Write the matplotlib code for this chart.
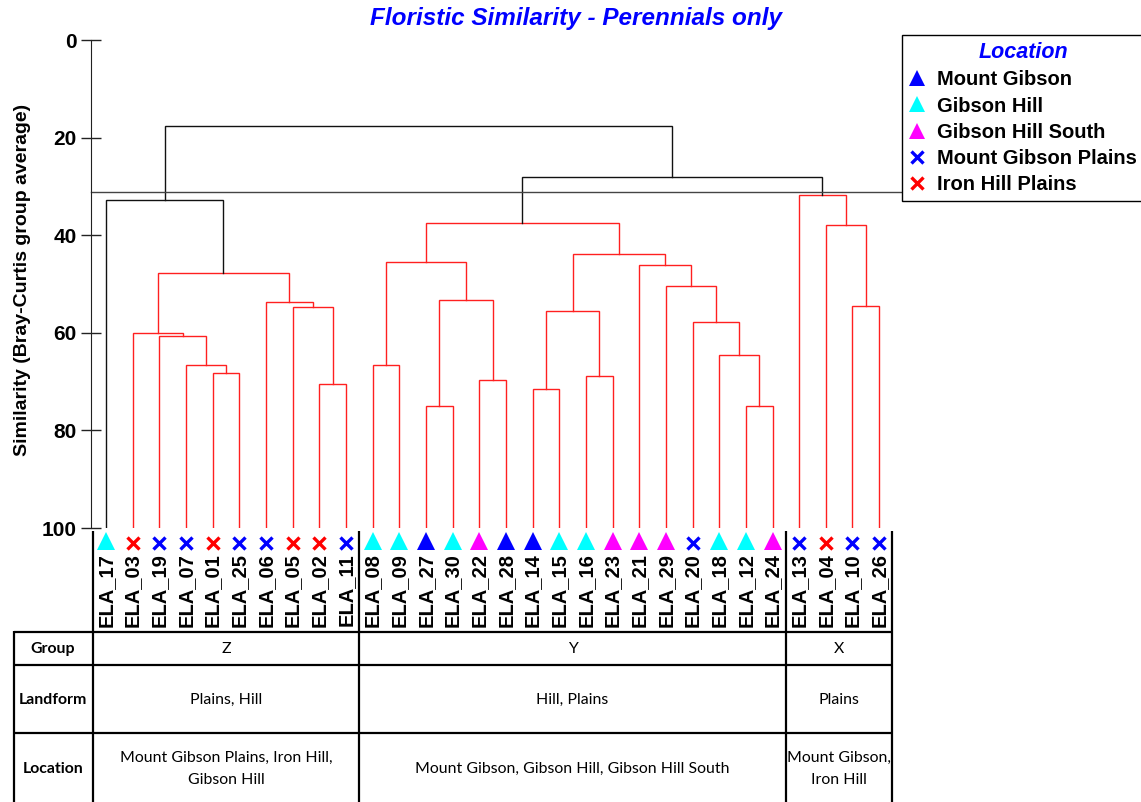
import matplotlib.pyplot as plt
from matplotlib.lines import Line2D

plt.rcParams['font.family'] = ['Liberation Sans', 'DejaVu Sans']

# ---- data ----
leaves = ['ELA_17', 'ELA_03', 'ELA_19', 'ELA_07', 'ELA_01', 'ELA_25', 'ELA_06', 'ELA_05', 'ELA_02', 'ELA_11',
          'ELA_08', 'ELA_09', 'ELA_27', 'ELA_30', 'ELA_22', 'ELA_28', 'ELA_14', 'ELA_15', 'ELA_16', 'ELA_23',
          'ELA_21', 'ELA_29', 'ELA_20', 'ELA_18', 'ELA_12', 'ELA_24', 'ELA_13', 'ELA_04', 'ELA_10', 'ELA_26']

MG, GH, GHS, MGP, IHP = 'Mount Gibson', 'Gibson Hill', 'Gibson Hill South', 'Mount Gibson Plains', 'Iron Hill Plains'
loc_names = [MG, GH, GHS, MGP, IHP]
leaf_loc = [GH, IHP, MGP, MGP, IHP, MGP, MGP, IHP, IHP, MGP,
            GH, GH, MG, GH, GHS, MG, MG, GH, GH, GHS,
            GHS, GHS, MGP, GH, GH, GHS, MGP, IHP, MGP, MGP]

# linkage rows: (child a, child b, similarity); ids >= 30 are earlier merges
merges = [(4, 5, 68.3), (3, 30, 66.7), (2, 31, 60.7), (1, 32, 60.0),
          (8, 9, 70.5), (7, 34, 54.8), (6, 35, 53.7), (33, 36, 47.7), (0, 37, 32.7),
          (10, 11, 66.7), (12, 13, 75.0), (14, 15, 69.6), (40, 41, 53.3), (39, 42, 45.4),
          (16, 17, 71.6), (18, 19, 68.9), (44, 45, 55.5),
          (24, 25, 75.0), (23, 47, 64.5), (22, 48, 57.7), (21, 49, 50.5), (20, 50, 46.2),
          (46, 51, 43.9), (43, 52, 37.4),
          (28, 29, 54.6), (27, 54, 38.0), (26, 55, 31.8), (53, 56, 28.1), (38, 57, 17.6)]
significant = [38, 57, 58]   # nodes drawn in black (SIMPROF)
cut_level = 31.1

groups = ['Z', 'Y', 'X']
group_sizes = [10, 16, 4]
landforms = ['Plains, Hill', 'Hill, Plains', 'Plains']
group_locs = ['Mount Gibson Plains, Iron Hill,\nGibson Hill',
              'Mount Gibson, Gibson Hill, Gibson Hill South',
              'Mount Gibson,\nIron Hill']
row_names = ['Group', 'Landform', 'Location']

# ---- styles ----
styles = {MG: ('^', '#0000FF'), GH: ('^', '#00FFFF'), GHS: ('^', '#FF00FF'),
          MGP: ('x', '#0000FF'), IHP: ('x', '#FF0000')}

W, H = 1141, 802


def fy(py):  # pixel row -> similarity units
    return (py - 40) / 4.88


def fx(px):  # pixel column -> leaf index units
    return (px - 106) / 26.66


fig = plt.figure(figsize=(W / 100, H / 100), dpi=100)
ax = fig.add_axes([91 / W, 1 - 528 / H, 800 / W, 488 / H])
ax.set_xlim(fx(91), fx(891))
ax.set_ylim(100, 0)
for s in ['top', 'right', 'bottom']:
    ax.spines[s].set_visible(False)
ax.spines['left'].set_color('#222222')
ax.set_xticks([])
ax.set_yticks(range(0, 101, 20))
ax.tick_params(axis='y', direction='inout', length=13.7, width=1, pad=3.5, labelsize=15, colors='#222222')
for t in ax.get_yticklabels():
    t.set_fontweight('bold')
    t.set_color('black')

# dendrogram
n = len(leaves)
xpos = {i: i for i in range(n)}
hgt = {i: 100 for i in range(n)}
for k, (a, b, h) in enumerate(merges):
    node = n + k
    col = '#111111' if node in significant else '#FF2020'
    ax.plot([xpos[a], xpos[a], xpos[b], xpos[b]], [hgt[a], h, h, hgt[b]], color=col, lw=1.0,
            solid_joinstyle='miter')
    xpos[node] = (xpos[a] + xpos[b]) / 2
    hgt[node] = h

ax.plot([fx(91), fx(W)], [cut_level, cut_level], color='#444444', lw=1.0, clip_on=False)

# leaf markers
for loc in loc_names:
    idx = [i for i in range(n) if leaf_loc[i] == loc]
    m, c = styles[loc]
    if m == '^':
        ax.plot(idx, [102.7] * len(idx), ls='none', marker=m, color=c, markersize=13, mew=0, clip_on=False)
    else:
        ax.plot(idx, [103.1] * len(idx), ls='none', marker=m, color=c, markersize=9, mew=2.4, clip_on=False)

for i, name in enumerate(leaves):
    ax.text(i, fy(553), name, rotation=90, ha='center', va='top', fontsize=14.5, fontweight='bold',
            clip_on=False)

# table under the dendrogram
bounds = [-0.5]
for s in group_sizes:
    bounds.append(bounds[-1] + s)
tk = dict(color='black', lw=1.6, clip_on=False, solid_capstyle='butt')
for b in bounds:
    ax.plot([b, b], [fy(531), fy(H)], **tk)
ax.plot([fx(14), fx(14)], [fy(631), fy(H)], **tk)
for py in [632, 665, 733]:
    ax.plot([fx(14), bounds[-1]], [fy(py), fy(py)], **tk)

row_y = [fy(649), fy(700), fy(769)]
tfont = dict(family=['Lato', 'DejaVu Sans'], fontsize=11.4, ha='center', va='center', clip_on=False,
             linespacing=1.75)
for name, y in zip(row_names, row_y):
    ax.text(fx(53), y, name, fontweight='bold', **tfont)
for j in range(len(groups)):
    cx = (bounds[j] + bounds[j + 1]) / 2
    ax.text(cx, row_y[0], groups[j], **tfont)
    ax.text(cx, row_y[1], landforms[j], **tfont)
    ax.text(cx, row_y[2], group_locs[j], **tfont)

# legend
handles = []
for loc in loc_names:
    m, c = styles[loc]
    if m == '^':
        handles.append(Line2D([], [], ls='none', marker=m, color=c, markersize=11, mew=0))
    else:
        handles.append(Line2D([], [], ls='none', marker=m, color=c, markersize=9, mew=2.4))
leg = ax.legend(handles, loc_names, title='Location', loc='upper left',
                bbox_to_anchor=(902 / W, 1 - 35 / H), bbox_transform=fig.transFigure, borderaxespad=0,
                prop={'size': 14.5, 'weight': 'bold'},
                title_fontproperties={'size': 15.5, 'weight': 'bold', 'style': 'italic'},
                fancybox=False, edgecolor='black', framealpha=1, borderpad=0.35, labelspacing=0.36,
                handlelength=0.8, handletextpad=0.6)
leg.get_title().set_color('#0000FF')
leg.get_frame().set_linewidth(1.0)
leg.set_zorder(10)

fig.text(576 / W, 1 - 18 / H, 'Floristic Similarity - Perennials only', color='#0000FF', fontsize=17.5,
         fontweight='bold', style='italic', ha='center', va='center')
fig.text(23 / W, 1 - 280 / H, 'Similarity (Bray-Curtis group average)', rotation=90, fontsize=14,
         fontweight='bold', ha='center', va='center')

fig.savefig('out.png', dpi=100, facecolor='white')
